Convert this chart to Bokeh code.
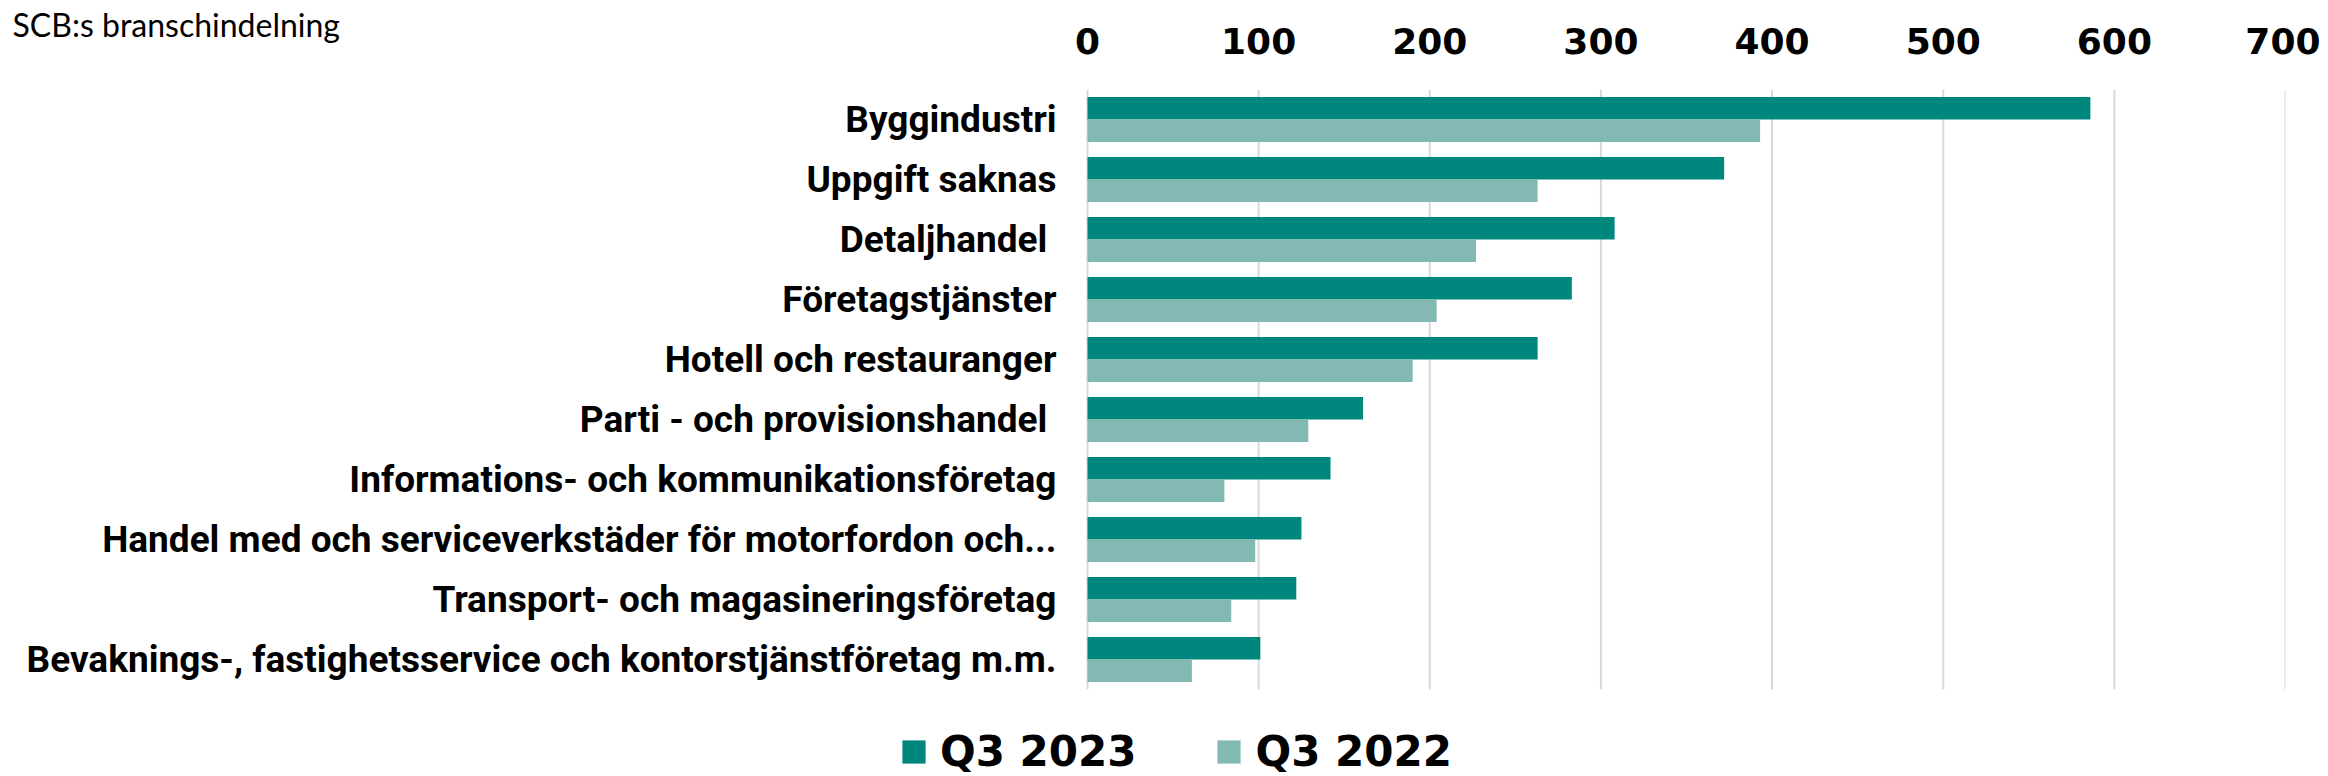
from bokeh.plotting import figure
from bokeh.models import ColumnDataSource, Range1d, Legend, LegendItem, FixedTicker
from bokeh.core.properties import value
from bokeh.embed import file_html
from bokeh.resources import INLINE

categories = [
    "Byggindustri",
    "Uppgift saknas",
    "Detaljhandel ",
    "Företagstjänster",
    "Hotell och restauranger",
    "Parti - och provisionshandel ",
    "Informations- och kommunikationsföretag",
    "Handel med och serviceverkstäder för motorfordon och...",
    "Transport- och magasineringsföretag",
    "Bevaknings-, fastighetsservice och kontorstjänstföretag m.m.",
]
q3_2023 = [586, 372, 308, 283, 263, 161, 142, 125, 122, 101]
q3_2022 = [393, 263, 227, 204, 190, 129, 80, 98, 84, 61]
series_names = ["Q3 2023", "Q3 2022"]
x_ticks = [0, 100, 200, 300, 400, 500, 600, 700]
subtitle = "SCB:s branschindelning"

DARK = "#00877D"
LIGHT = "#82BAB3"

# layout constants (pixels)
W, H = 2320, 776
FRAME_TOP = 89
ZERO_PX = 1087          # x pixel of value 0
FRAME_RIGHT = 2285      # x pixel of value 700
ROW_PX = 60             # pixels per category row

n = len(categories)
ypos = [n - 1 - i for i in range(n)]
x_max = x_ticks[-1]
units_per_px = x_max / (FRAME_RIGHT - ZERO_PX)
x_start = -ZERO_PX * units_per_px
y_end = n - 0.5
y_start = y_end - (H - FRAME_TOP) / ROW_PX

src = ColumnDataSource(data=dict(
    cat=categories,
    y=ypos,
    ya=[v + 0.1875 for v in ypos],
    yb=[v - 0.1875 for v in ypos],
    a=q3_2023, b=q3_2022,
))

p = figure(
    width=W, height=H,
    x_range=Range1d(x_start, x_max), y_range=Range1d(y_start, y_end),
    x_axis_location="above", y_axis_location=None,
    output_backend="svg", toolbar_location=None,
    min_border_left=0, min_border_right=W - FRAME_RIGHT,
    min_border_top=FRAME_TOP, min_border_bottom=0,
)
p.outline_line_color = None
p.background_fill_color = "white"
p.xgrid.visible = False
p.ygrid.visible = False

# vertical gridlines over the category area only
grid_src = ColumnDataSource(data=dict(
    x=x_ticks, y0=[-0.5] * len(x_ticks), y1=[y_end] * len(x_ticks)))
p.segment(x0="x", x1="x", y0="y0", y1="y1", source=grid_src,
          line_color="#D9D9D9", line_width=2)

r1 = p.hbar(y="ya", right="a", left=0, height=0.375,
            source=src, fill_color=DARK, line_color=None)
r2 = p.hbar(y="yb", right="b", left=0, height=0.375,
            source=src, fill_color=LIGHT, line_color=None)

# category labels
p.text(x=0, y="y", text="cat", source=src, x_offset=-31,
       text_align="right", text_baseline="middle",
       text_font=value("Roboto"), text_font_style="bold",
       text_font_size="37px", text_color="black")

# subtitle as title
p.title.text = subtitle
p.title.align = "left"
p.title.offset = 12
p.title.vertical_align = "middle"
p.title.standoff = -54
p.title.text_font = "Lato"
p.title.text_font_style = "normal"
p.title.text_font_size = "32px"
p.title.text_color = "black"

# x axis (top)
xa = p.xaxis[0]
xa.ticker = FixedTicker(ticks=x_ticks)
xa.axis_line_color = None
xa.major_tick_line_color = None
xa.minor_tick_line_color = None
xa.major_label_text_font = "DejaVu Sans"
xa.major_label_text_font_style = "bold"
xa.major_label_text_font_size = "36px"
xa.major_label_text_color = "black"
xa.major_label_standoff = 30

legend = Legend(
    items=[LegendItem(label=series_names[0], renderers=[r1]),
           LegendItem(label=series_names[1], renderers=[r2])],
    orientation="horizontal",
    location=(899, 0),
    glyph_width=29, glyph_height=29,
    label_standoff=12, spacing=78,
    label_text_font="DejaVu Sans", label_text_font_style="bold",
    label_text_font_size="42px", label_text_color="black",
    border_line_color=None, background_fill_alpha=0,
    padding=0, margin=0,
)
p.add_layout(legend, "center")

open("out.html", "w").write(file_html(p, INLINE))
